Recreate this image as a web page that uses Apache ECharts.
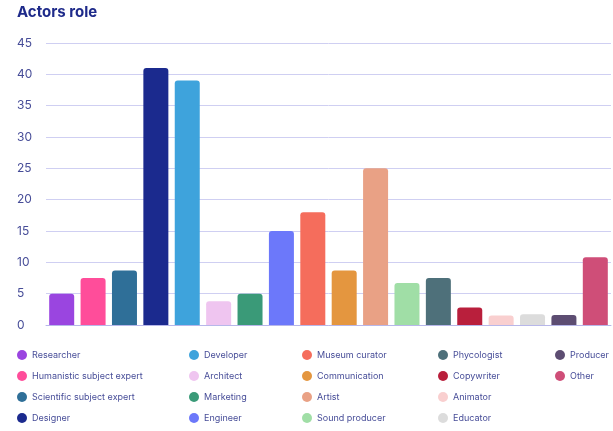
<!DOCTYPE html>
<html>
<head>
<meta charset="utf-8">
<script src="https://cdn.jsdelivr.net/npm/echarts@6/dist/echarts.min.js"></script>
<style>
  html, body { margin: 0; padding: 0; background: #ffffff; }
  #chart { width: 613px; height: 431px; }
</style>
</head>
<body>
<div id="chart"></div>
<script>
// Roles of the actors involved, with the count for each role
const roles = [
  'Researcher', 'Humanistic subject expert', 'Scientific subject expert', 'Designer',
  'Developer', 'Architect', 'Marketing', 'Engineer',
  'Museum curator', 'Communication', 'Artist', 'Sound producer',
  'Phycologist', 'Copywriter', 'Animator', 'Educator',
  'Producer', 'Other'
];
const counts = [5, 7.5, 8.7, 41, 39, 3.8, 5, 15, 18, 8.7, 25, 6.7, 7.5, 2.8, 1.5, 1.7, 1.6, 10.8];
const roleColors = [
  '#9a45e0', '#ff4d9a', '#2f6f98', '#1b2a8e',
  '#3ea3dc', '#efc5f0', '#3a9a78', '#6c78fa',
  '#f56d5c', '#e4963f', '#e9a185', '#a0dea6',
  '#4e707a', '#b91f3c', '#f9cfcf', '#dcdcdc',
  '#5d4d72', '#cf4e78'
];
const yTicks = { min: 0, max: 45, interval: 5 };

const textBlue = '#474d98';

// One series per role so every role gets its own legend entry;
// a shared stack keeps each bar centred in its own category.
const series = roles.map((name, i) => ({
  name: name,
  type: 'bar',
  stack: 'roles',
  barWidth: 25,
  itemStyle: { color: roleColors[i], borderRadius: [3, 3, 0, 0] },
  data: roles.map((_, j) => (j === i ? counts[i] : '-'))
}));

// Legend laid out as five columns of up to four entries
const legendColumns = [
  { left: 17, names: roles.slice(0, 4) },
  { left: 189, names: roles.slice(4, 8) },
  { left: 302, names: roles.slice(8, 12) },
  { left: 438, names: roles.slice(12, 16) },
  { left: 555, names: roles.slice(16, 18) }
];
const legends = legendColumns.map(col => ({
  orient: 'vertical',
  left: col.left,
  top: 348,
  padding: 0,
  itemGap: 7,
  itemWidth: 10,
  itemHeight: 10,
  icon: 'circle',
  selectedMode: false,
  data: col.names,
  textStyle: {
    color: textBlue,
    fontFamily: 'Inter',
    fontSize: 9,
    lineHeight: 14,
    padding: [0, 0, 0, 0]
  }
}));

const chart = echarts.init(document.getElementById('chart'), null, { renderer: 'canvas' });
chart.setOption({
  animation: false,
  backgroundColor: '#ffffff',
  title: {
    text: 'Actors role',
    left: 17,
    top: 5,
    padding: 0,
    textStyle: { color: '#1e2a8a', fontFamily: 'Inter', fontSize: 15, fontWeight: 'bold' }
  },
  legend: legends,
  grid: { left: 46, right: 2, top: 43, bottom: 106, containLabel: false },
  xAxis: {
    type: 'category',
    data: roles,
    axisLine: { show: true, lineStyle: { color: '#b7b7ea', width: 1 } },
    axisTick: { show: false },
    axisLabel: { show: false },
    splitLine: { show: false }
  },
  yAxis: {
    type: 'value',
    min: yTicks.min,
    max: yTicks.max,
    interval: yTicks.interval,
    axisLine: { show: false },
    axisTick: { show: false },
    axisLabel: {
      color: textBlue,
      fontFamily: 'Inter',
      fontSize: 12,
      align: 'left',
      margin: 29
    },
    splitLine: { lineStyle: { color: '#cfcff2', width: 1 } }
  },
  series: series
});
</script>
</body>
</html>
